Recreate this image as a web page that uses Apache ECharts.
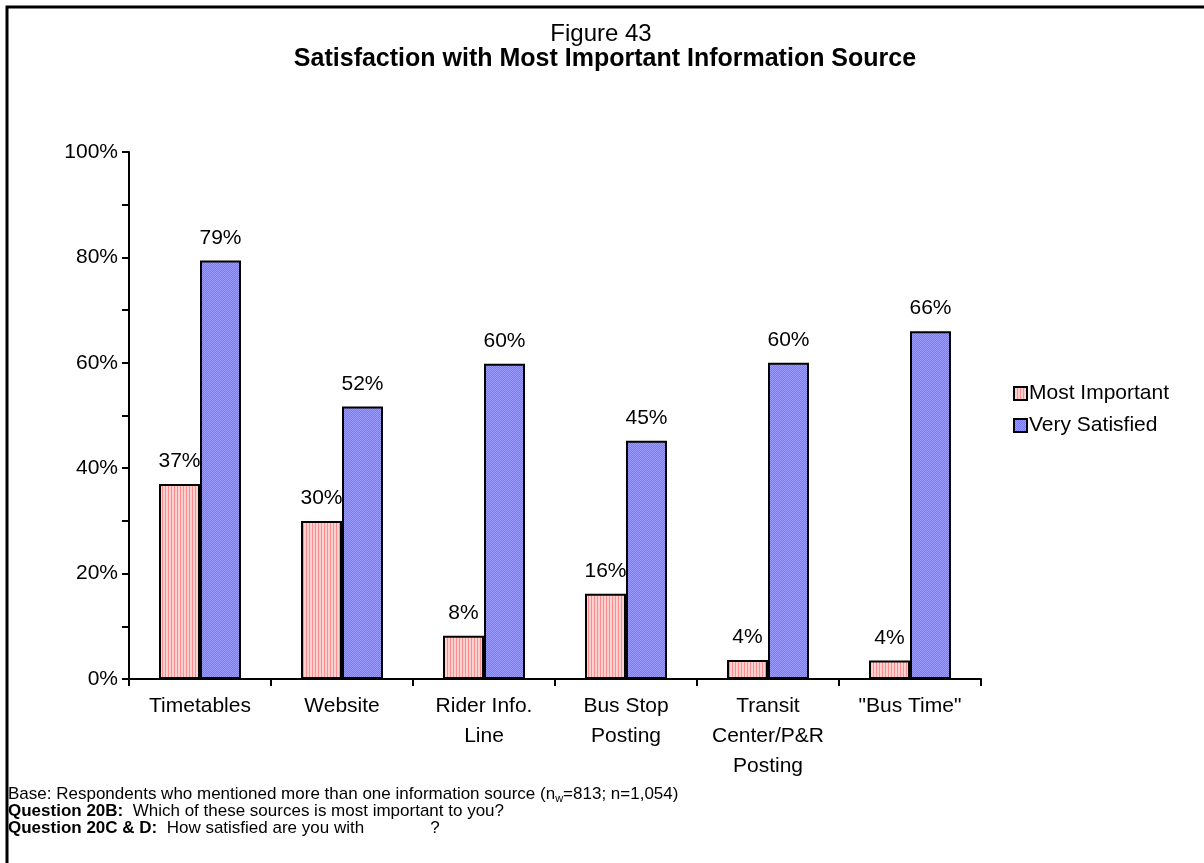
<!DOCTYPE html>
<html><head><meta charset="utf-8">
<script src="https://cdn.jsdelivr.net/npm/echarts@6/dist/echarts.min.js"></script>
<style>html,body{margin:0;padding:0;background:#fff}#c{width:1204px;height:863px}</style>
</head><body><div id="c"></div>
<script>
var categories = ['Timetables', 'Website', 'Rider Info.\nLine', 'Bus Stop\nPosting', 'Transit\nCenter/P&R\nPosting', '"Bus Time"'];
var mostImportant = [37, 30, 8.2, 16.2, 3.6, 3.5];
var verySatisfied = [79.4, 51.7, 59.8, 45.2, 60, 66];
var seriesNames = ['Most Important', 'Very Satisfied'];
var titleLine1 = 'Figure 43';
var titleLine2 = 'Satisfaction with Most Important Information Source';

function stripePattern() {
  var c = document.createElement('canvas'); c.width = 3; c.height = 3;
  var g = c.getContext('2d');
  g.fillStyle = '#FFD2D2'; g.fillRect(0, 0, 3, 3);
  g.fillStyle = '#FF8C8C'; g.fillRect(0, 0, 1, 3);
  return c;
}
function dotPattern() {
  var c = document.createElement('canvas'); c.width = 2; c.height = 2;
  var g = c.getContext('2d');
  g.fillStyle = '#7878FF'; g.fillRect(0, 0, 2, 2);
  g.fillStyle = '#9C9CFF'; g.fillRect(0, 0, 1, 1); g.fillRect(1, 1, 1, 1);
  return c;
}
var pinkFill = { image: stripePattern(), repeat: 'repeat' };
var blueFill = { image: dotPattern(), repeat: 'repeat' };

var FONT = '"Liberation Sans", Arial, sans-serif';
var chart = echarts.init(document.getElementById('c'), null, { renderer: 'canvas' });
var labelCfg = {
  show: true, position: 'top', distance: 12, color: '#000', fontSize: 21, fontFamily: FONT,
  formatter: function (p) { return Math.round(p.value) + '%'; }
};
chart.setOption({
  animation: false,
  backgroundColor: '#fff',
  textStyle: { fontFamily: FONT },
  title: [
    { text: titleLine1, left: 596, top: 17, textAlign: 'center',
      textStyle: { fontWeight: 'normal', fontSize: 24, color: '#000', fontFamily: FONT } },
    { text: titleLine2, left: 600, top: 42, textAlign: 'center',
      textStyle: { fontWeight: 'bold', fontSize: 25, color: '#000', fontFamily: FONT } }
  ],
  legend: {
    orient: 'vertical', left: 1008, top: 378,
    itemWidth: 13, itemHeight: 13, itemGap: 11, icon: 'rect',
    data: seriesNames,
    itemStyle: { borderColor: '#000', borderWidth: 2 },
    textStyle: { fontSize: 21, color: '#000', fontFamily: FONT, lineHeight: 21, padding: [0, 0, 0, -3] }
  },
  grid: { left: 129, right: 223, top: 152, bottom: 184, containLabel: false },
  xAxis: {
    type: 'category', data: categories,
    axisLine: { lineStyle: { color: '#000', width: 2 } },
    axisTick: { show: true, length: 7, lineStyle: { color: '#000', width: 2 }, alignWithLabel: false },
    axisLabel: { color: '#000', fontSize: 21, lineHeight: 30, margin: 12, interval: 0, fontFamily: FONT }
  },
  yAxis: {
    type: 'value', min: 0, max: 100, interval: 10,
    axisLine: { show: true, lineStyle: { color: '#000', width: 2 } },
    axisTick: { show: true, length: 7, lineStyle: { color: '#000', width: 2 } },
    splitLine: { show: false },
    axisLabel: { color: '#000', fontSize: 21, margin: 11, fontFamily: FONT,
      formatter: function (v) { return v % 20 === 0 ? v + '%' : ''; } }
  },
  series: [
    { name: seriesNames[0], type: 'bar', data: mostImportant, barWidth: 41, barGap: '0%',
      itemStyle: { color: pinkFill, borderColor: '#000', borderWidth: 2 }, label: labelCfg },
    { name: seriesNames[1], type: 'bar', data: verySatisfied, barWidth: 41, barGap: '0%',
      itemStyle: { color: blueFill, borderColor: '#000', borderWidth: 2 }, label: labelCfg }
  ],
  graphic: [
    { type: 'rect', shape: { x: 7, y: 7, width: 1230, height: 900 }, silent: true,
      style: { fill: null, stroke: '#000', lineWidth: 3 } },
    { type: 'text', left: 8, top: 786, silent: true,
      style: { text: 'Base: Respondents who mentioned more than one information source (n{sub|w}=813; n=1,054)',
        fontSize: 17, fontFamily: FONT, fill: '#000',
        rich: { sub: { fontSize: 11, fontFamily: FONT, fill: '#000', verticalAlign: 'bottom', padding: [9, 0, 0, 0] } } } },
    { type: 'text', left: 8, top: 803, silent: true,
      style: { text: '{b|Question 20B:}  Which of these sources is most important to you?',
        fontSize: 17, fontFamily: FONT, fill: '#000',
        rich: { b: { fontSize: 17, fontWeight: 'bold', fontFamily: FONT, fill: '#000' } } } },
    { type: 'text', left: 8, top: 820, silent: true,
      style: { text: '{b|Question 20C & D:}  How satisfied are you with              ?',
        fontSize: 17, fontFamily: FONT, fill: '#000',
        rich: { b: { fontSize: 17, fontWeight: 'bold', fontFamily: FONT, fill: '#000' } } } }
  ]
});
</script></body></html>
